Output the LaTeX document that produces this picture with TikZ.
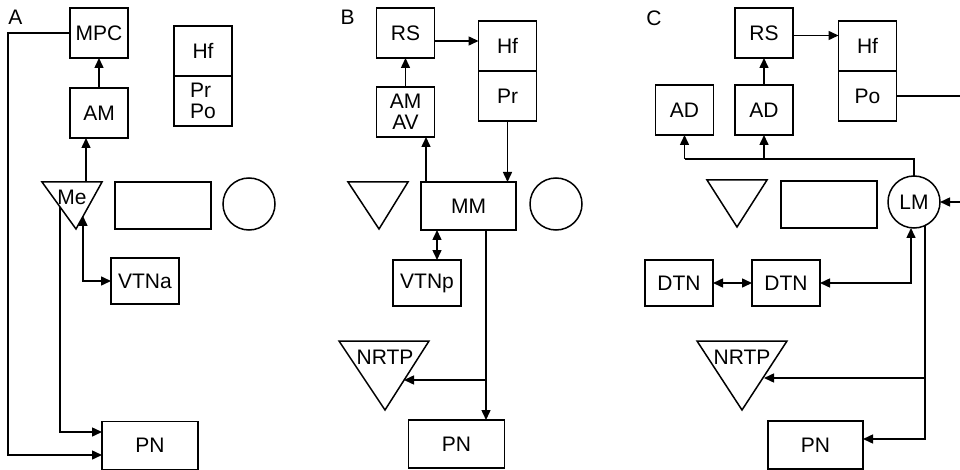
\documentclass[tikz,border=0pt]{standalone}
\usepackage{fontspec}
\setmainfont{Liberation Sans}
\usetikzlibrary{arrows.meta}

\begin{document}
\begin{tikzpicture}[x=1pt,y=-1pt,line width=1.5pt,
  font=\fontsize{21}{20.5}\selectfont,
  box/.style={draw,inner sep=0pt,outer sep=0pt,minimum width=58pt,minimum height=50pt,align=center},
  wide/.style={box,minimum width=96pt,minimum height=47pt},
  small/.style={box,minimum width=68pt,minimum height=46pt},
  pnbox/.style={box,minimum width=96pt,minimum height=48pt},
  ring/.style={draw,circle,inner sep=0pt,outer sep=0pt,minimum size=52pt},
  conn/.style={-{Triangle[length=10pt,width=9pt]}},
  dbl/.style={{Triangle[length=10pt,width=9pt]}-{Triangle[length=10pt,width=9pt]}}]
  \clip (0,0) rectangle (960,470);

  % ---------- panel A ----------
  \node (labA) at (15.5,17.5) {A};
  \node[box] (mpcA) at (99,33) {MPC};
  \node[box] (amA) at (99,113) {AM};
  \node[box] (hfA) at (203,51) {Hf};
  \node[box,align=left] (prA) at (203,101) {Pr\\Po};
  \draw (42,182) -- (102,182) -- (76,229) -- cycle;
  \node (meA) at (72,197) {Me};
  \node[wide] (rectA) at (163,205.5) {};
  \node[ring] (circA) at (249,204) {};
  \node[small] (vtnaA) at (145,281) {VTNa};
  \node[pnbox] (pnA) at (150,445.5) {PN};

  \coordinate (meT) at (86,182);
  \coordinate (meL) at (60,207);
  \coordinate (meR) at (83,216);
  \draw[conn] (amA.north) -- (mpcA.south);
  \draw[conn] (meT) -- (meT |- amA.south);
  \draw[conn] (mpcA.west) -- ++(-62,0) |- ([yshift=-9.5pt]pnA.west);
  \draw[conn] (meL) |- ([yshift=13.5pt]pnA.west);
  \draw[dbl] (meR) |- (vtnaA.west);

  % ---------- panel B ----------
  \node (labB) at (347.5,17.5) {B};
  \node[box] (rsB) at (405.5,33) {RS};
  \node[box] (hfB) at (507.5,46) {Hf};
  \node[box] (prB) at (507.5,96) {Pr};
  \node[box] (amB) at (405.5,112) {AM\\AV};
  \draw (348,182) -- (408,182) -- (379,229) -- cycle;
  \node[box,minimum width=95pt,minimum height=48pt] (mmB) at (468.5,206) {MM};
  \node[ring] (circB) at (556,204) {};
  \node[small] (vtnpB) at (427,283) {VTNp};
  \draw (339,341) -- (429,341) -- (385,410) -- cycle;
  \node (nrtpB) at (385,357) {NRTP};
  \node[pnbox] (pnB) at (456.5,444) {PN};

  \coordinate (mmT) at (426,182);
  \coordinate (splitB) at (486,380);
  \coordinate (nrtpBr) at (404,380);
  \draw[conn] ([yshift=-8pt]rsB.east) -- ([yshift=-8pt]rsB.east -| hfB.west);
  \draw[conn] (amB.north) -- (rsB.south);
  \draw[conn] (mmT) -- (mmT |- amB.south);
  \draw[conn] (prB.south) -- (prB.south |- mmB.north);
  \draw[dbl] ([xshift=10pt]vtnpB.north) -- ([xshift=10pt]vtnpB.north |- mmB.south);
  \draw[conn] (splitB |- mmB.south) -- (splitB |- pnB.north);
  \draw[conn] (splitB) -- (nrtpBr);

  % ---------- panel C ----------
  \node (labC) at (654,18.5) {C};
  \node[box] (rsC) at (764,33) {RS};
  \node[box] (hfC) at (867.5,46) {Hf};
  \node[box] (poC) at (867.5,96) {Po};
  \node[box] (adC1) at (684.5,110) {AD};
  \node[box] (adC2) at (764,110) {AD};
  \draw (707,180) -- (767,180) -- (737,227) -- cycle;
  \node[wide] (rectC) at (829,204.5) {};
  \node[ring] (lmC) at (914,202) {LM};
  \node[small] (dtnC1) at (679,283) {DTN};
  \node[small] (dtnC2) at (786,283) {DTN};
  \draw (697,341) -- (787,341) -- (742,410) -- cycle;
  \node (nrtpC) at (742,357) {NRTP};
  \node[pnbox,minimum width=95pt] (pnC) at (815.5,445) {PN};

  \coordinate (busC) at (684.5,159);
  \coordinate (nrtpCr) at (764,378);
  \draw[conn] ([yshift=-2.5pt]rsC.east) -- ([yshift=-2.5pt]rsC.east -| hfC.west);
  \draw[conn] (adC2.north) -- (rsC.south);
  \draw (lmC.north) |- (busC);
  \draw[conn] (busC) -- (adC1.south);
  \draw[conn] (busC -| adC2.south) -- (adC2.south);
  \draw[conn] (poC.east) -- ++(80,0) |- (lmC.east);
  \draw[dbl] (dtnC2.east) -| ([xshift=-3pt]lmC.south);
  \draw[dbl] (dtnC1) -- (dtnC2);
  \draw[conn] (lmC.-65) |- ([yshift=6pt]pnC.east);
  \draw[conn] (lmC.-65 |- nrtpCr) -- (nrtpCr);
\end{tikzpicture}
\end{document}
